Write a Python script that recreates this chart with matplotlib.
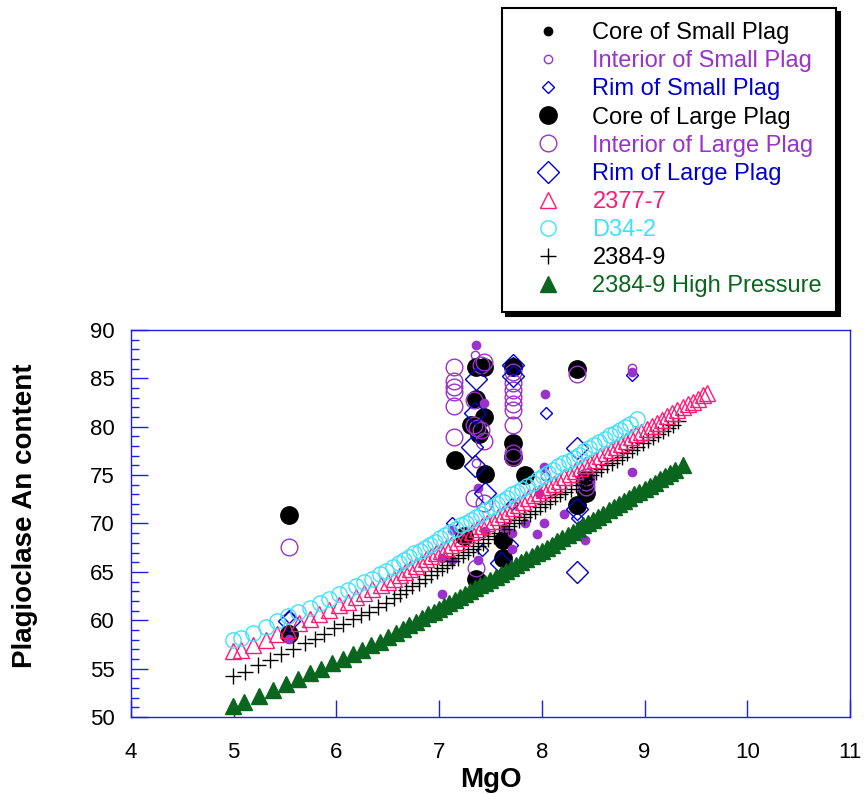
import matplotlib
matplotlib.use("Agg")
import matplotlib.pyplot as plt
from matplotlib.ticker import MultipleLocator

plt.rcParams['font.family'] = ['Liberation Sans', 'DejaVu Sans']

PURPLE = '#9933CC'
BLUE = '#0000CC'
PINK = '#FF1A75'
CYAN = '#40E0FF'
GREEN = '#0A661E'
AXIS_BLUE = '#2020E0'

# --- analysed plagioclase (MgO of host glass vs An) ---
core_small_x = [7.72, 8.34]
core_small_y = [86.2, 86.0]

interior_small_x = [7.35, 8.88, 8.03, 7.36]
interior_small_y = [87.4, 86.1, 74.9, 76.3]

# filled small interior analyses
interior_small_fill_x = [7.36, 7.44, 8.03, 8.88, 8.88, 7.38, 8.02, 7.97, 8.22, 8.02, 7.84, 7.95,
                         7.71, 7.71, 8.42, 8.36, 7.03, 7.03, 7.13, 7.13, 7.38, 7.45, 5.54, 7.63]
interior_small_fill_y = [88.4, 82.5, 83.4, 85.7, 75.3, 73.7, 75.8, 73.1, 71.0, 70.1, 70.0, 68.9,
                         69.0, 67.4, 68.3, 69.3, 66.4, 62.7, 66.2, 69.3, 66.2, 69.2, 58.1, 69.5]

rim_small_x = [5.54, 8.04, 8.88, 7.13, 7.71, 7.71, 8.34, 7.42, 7.72]
rim_small_y = [60.3, 81.4, 85.3, 70.1, 72.0, 67.8, 70.6, 67.3, 86.6]

core_large_x = [5.54, 5.54, 7.15, 7.36, 7.44, 7.36, 7.44, 7.31, 7.39, 7.45, 7.36, 7.24,
                7.72, 7.72, 7.72, 7.84, 7.62, 7.62, 8.34, 8.42, 8.43, 8.34]
core_large_y = [70.9, 58.6, 76.6, 86.2, 86.2, 82.9, 81.0, 80.2, 79.3, 75.1, 64.3, 68.7,
                86.2, 78.3, 76.9, 75.0, 68.3, 66.4, 86.0, 74.5, 73.1, 71.9]

interior_large_x = [5.54, 7.14, 7.14, 7.14, 7.14, 7.14, 7.14, 7.44, 7.41, 7.34, 7.34, 7.41,
                    7.44, 7.37, 7.34, 7.44, 7.36, 7.72, 7.72, 7.72, 7.72, 7.72, 7.72, 7.72,
                    7.72, 7.72, 8.34, 8.43, 8.43, 8.43]
interior_large_y = [67.6, 86.2, 84.7, 84.1, 83.6, 82.1, 78.9, 86.7, 86.4, 82.8, 80.2, 79.7,
                    78.5, 79.9, 72.6, 72.1, 65.4, 85.7, 84.5, 83.8, 83.1, 82.4, 81.7, 80.2,
                    77.3, 76.9, 85.4, 74.8, 74.3, 73.8]

rim_large_x = [5.54, 7.36, 7.35, 7.32, 7.35, 7.45, 7.72, 7.72, 8.34, 8.34, 8.34, 7.60]
rim_large_y = [59.9, 84.9, 81.4, 77.9, 75.9, 73.2, 86.4, 85.2, 77.8, 71.5, 65.0, 65.9]

# --- model liquid lines of descent ---
m2377_x = [4.99, 5.07, 5.19, 5.31, 5.42, 5.53, 5.64, 5.74, 5.83, 5.93, 6.03, 6.11, 6.19, 6.27,
           6.35, 6.43, 6.50, 6.56, 6.62, 6.67, 6.72, 6.77, 6.82, 6.87, 6.92, 6.97, 7.02, 7.07,
           7.12, 7.17, 7.22, 7.27, 7.32, 7.37, 7.42, 7.47, 7.52, 7.57, 7.62, 7.67, 7.72, 7.77,
           7.82, 7.87, 7.92, 7.97, 8.02, 8.07, 8.12, 8.17, 8.22, 8.27, 8.32, 8.37, 8.42, 8.47,
           8.52, 8.57, 8.62, 8.67, 8.72, 8.77, 8.82, 8.87, 8.92, 8.97, 9.02, 9.07, 9.12, 9.17,
           9.22, 9.27, 9.32, 9.37, 9.42, 9.47, 9.52, 9.57, 9.61]
m2377_y = [56.8, 56.9, 57.4, 58.0, 58.6, 59.0, 59.7, 60.1, 60.6, 61.1, 61.6, 61.9, 62.4, 62.8,
           63.2, 63.6, 64.0, 64.3, 64.7, 65.0, 65.3, 65.6, 65.9, 66.3, 66.6, 66.9, 67.2, 67.5,
           67.8, 68.1, 68.5, 68.8, 69.1, 69.4, 69.7, 70.0, 70.3, 70.7, 71.0, 71.3, 71.6, 71.9,
           72.2, 72.6, 72.9, 73.2, 73.5, 73.8, 74.1, 74.4, 74.8, 75.1, 75.4, 75.7, 76.0, 76.3,
           76.6, 77.0, 77.3, 77.6, 77.9, 78.2, 78.5, 78.9, 79.2, 79.5, 79.8, 80.1, 80.4, 80.7,
           81.1, 81.4, 81.7, 82.0, 82.3, 82.6, 82.9, 83.3, 83.5]

d342_x = [4.99, 5.07, 5.19, 5.31, 5.42, 5.53, 5.63, 5.74, 5.84, 5.93, 6.03, 6.11, 6.19, 6.27,
          6.35, 6.42, 6.48, 6.55, 6.61, 6.66, 6.71, 6.76, 6.81, 6.86, 6.91, 6.96, 7.01, 7.06,
          7.11, 7.16, 7.21, 7.26, 7.31, 7.36, 7.41, 7.46, 7.51, 7.56, 7.61, 7.66, 7.71, 7.76,
          7.81, 7.86, 7.91, 7.96, 8.01, 8.06, 8.11, 8.16, 8.21, 8.26, 8.31, 8.36, 8.41, 8.46,
          8.51, 8.56, 8.61, 8.66, 8.71, 8.76, 8.81, 8.86, 8.93]
d342_y = [58.0, 58.2, 58.7, 59.3, 59.9, 60.4, 60.8, 61.3, 61.8, 62.2, 62.7, 63.1, 63.5, 64.0,
          64.3, 64.8, 65.1, 65.5, 65.9, 66.2, 66.5, 66.9, 67.2, 67.5, 67.8, 68.1, 68.5, 68.8,
          69.1, 69.4, 69.8, 70.1, 70.4, 70.7, 71.0, 71.4, 71.7, 72.0, 72.3, 72.6, 73.0, 73.3,
          73.6, 73.9, 74.2, 74.6, 74.9, 75.2, 75.5, 75.9, 76.2, 76.5, 76.8, 77.1, 77.5, 77.8,
          78.1, 78.4, 78.7, 79.1, 79.4, 79.7, 80.0, 80.3, 80.8]

m2384_x = [4.99, 5.11, 5.24, 5.35, 5.46, 5.58, 5.69, 5.79, 5.88, 5.98, 6.06, 6.16, 6.24, 6.32,
           6.40, 6.48, 6.56, 6.62, 6.68, 6.74, 6.80, 6.86, 6.92, 6.98, 7.03, 7.08, 7.13, 7.18,
           7.23, 7.28, 7.33, 7.38, 7.43, 7.48, 7.53, 7.58, 7.63, 7.68, 7.73, 7.78, 7.83, 7.88,
           7.93, 7.98, 8.03, 8.08, 8.13, 8.18, 8.23, 8.28, 8.33, 8.38, 8.43, 8.48, 8.53, 8.58,
           8.63, 8.68, 8.73, 8.78, 8.83, 8.88, 8.93, 8.98, 9.03, 9.08, 9.13, 9.18, 9.23, 9.28, 9.33]
m2384_y = [54.2, 54.7, 55.4, 55.9, 56.5, 57.0, 57.6, 58.1, 58.6, 59.2, 59.6, 60.1, 60.5, 60.9,
           61.4, 61.8, 62.3, 62.7, 63.1, 63.5, 63.9, 64.3, 64.7, 65.1, 65.4, 65.7, 66.1, 66.4,
           66.7, 67.1, 67.4, 67.7, 68.0, 68.4, 68.7, 69.0, 69.4, 69.7, 70.0, 70.4, 70.7, 71.0,
           71.3, 71.7, 72.0, 72.3, 72.7, 73.0, 73.3, 73.6, 74.0, 74.3, 74.6, 75.0, 75.3, 75.6,
           76.0, 76.3, 76.6, 76.9, 77.3, 77.6, 77.9, 78.3, 78.6, 78.9, 79.3, 79.6, 79.9, 80.2, 80.6]

m2384hp_x = [4.99, 5.10, 5.25, 5.38, 5.51, 5.63, 5.74, 5.85, 5.96, 6.06, 6.16, 6.25, 6.34, 6.42,
             6.50, 6.58, 6.65, 6.71, 6.77, 6.83, 6.89, 6.95, 7.00, 7.05, 7.10, 7.15, 7.20, 7.25,
             7.30, 7.35, 7.40, 7.45, 7.50, 7.55, 7.60, 7.65, 7.70, 7.75, 7.80, 7.85, 7.90, 7.95,
             8.00, 8.05, 8.10, 8.15, 8.20, 8.25, 8.30, 8.35, 8.40, 8.45, 8.50, 8.55, 8.60, 8.65,
             8.70, 8.75, 8.80, 8.85, 8.90, 8.95, 9.00, 9.05, 9.10, 9.15, 9.20, 9.25, 9.30, 9.37]
m2384hp_y = [51.1, 51.6, 52.2, 52.8, 53.4, 53.9, 54.5, 55.0, 55.6, 56.0, 56.5, 56.9, 57.4, 57.8,
             58.3, 58.7, 59.1, 59.5, 59.8, 60.2, 60.6, 60.9, 61.2, 61.5, 61.8, 62.1, 62.4, 62.7,
             63.0, 63.3, 63.6, 63.9, 64.2, 64.5, 64.8, 65.1, 65.4, 65.7, 66.0, 66.3, 66.6, 66.9,
             67.2, 67.5, 67.8, 68.2, 68.5, 68.8, 69.1, 69.4, 69.8, 70.1, 70.4, 70.7, 71.0, 71.4,
             71.7, 72.0, 72.3, 72.6, 73.0, 73.3, 73.6, 73.9, 74.2, 74.6, 74.9, 75.2, 75.5, 76.0]

fig = plt.figure(figsize=(8.64, 7.94), dpi=100)
ax = fig.add_axes([0.1516, 0.097, 0.8322, 0.4874])

# measured data
h_core_s, = ax.plot(core_small_x, core_small_y, 'o', ms=6, color='black', ls='none',
                    label='Core of Small Plag')
h_int_s, = ax.plot(interior_small_x, interior_small_y, 'o', ms=6, mfc='none', mec=PURPLE, mew=1.0,
                   ls='none', label='Interior of Small Plag')
h_rim_s, = ax.plot(rim_small_x, rim_small_y, 'D', ms=6, mfc='none', mec=BLUE, mew=1.0,
                   ls='none', label='Rim of Small Plag')
h_core_l, = ax.plot(core_large_x, core_large_y, 'o', ms=12.5, color='black', ls='none',
                    label='Core of Large Plag')
h_int_l, = ax.plot(interior_large_x, interior_large_y, 'o', ms=12, mfc='none', mec=PURPLE,
                   mew=1.0, ls='none', label='Interior of Large Plag')
ax.plot(interior_small_fill_x, interior_small_fill_y, 'o', ms=6, color=PURPLE, ls='none')
h_rim_l, = ax.plot(rim_large_x, rim_large_y, 'D', ms=11, mfc='none', mec=BLUE, mew=1.0,
                   ls='none', label='Rim of Large Plag')

# models
h_hp, = ax.plot(m2384hp_x, m2384hp_y, '^', ms=11, color=GREEN, ls='none',
                label='2384-9 High Pressure')
h_2384, = ax.plot(m2384_x, m2384_y, '+', ms=11, mew=1.0, color='black', ls='none', label='2384-9')
h_2377, = ax.plot(m2377_x, m2377_y, '^', ms=11, mfc='none', mec=PINK, mew=1.0, ls='none',
                  label='2377-7')
h_d34, = ax.plot(d342_x, d342_y, 'o', ms=11, mfc='none', mec=CYAN, mew=1.0, ls='none',
                 label='D34-2')

ax.set_xlim(4, 11)
ax.set_ylim(50, 90)
ax.xaxis.set_major_locator(MultipleLocator(1))
ax.yaxis.set_major_locator(MultipleLocator(5))
ax.yaxis.set_minor_locator(MultipleLocator(1))
ax.tick_params(axis='both', which='both', direction='in', top=False, right=False,
               color=AXIS_BLUE, labelsize=16, labelcolor='black')
ax.tick_params(axis='y', which='major', length=12, width=1, pad=12)
ax.tick_params(axis='y', which='minor', length=6, width=1)
ax.tick_params(axis='x', which='major', length=12, width=1, pad=18)
for sp in ax.spines.values():
    sp.set_color(AXIS_BLUE)
    sp.set_linewidth(1.0)

ax.set_xlabel('MgO', fontsize=20, fontweight='bold', labelpad=3)
ax.set_ylabel('Plagioclase An content', fontsize=20, fontweight='bold')
ax.yaxis.set_label_coords(-0.129, 0.52)

handles = [h_core_s, h_int_s, h_rim_s, h_core_l, h_int_l, h_rim_l, h_2377, h_d34, h_2384, h_hp]
label_colors = ['black', PURPLE, BLUE, 'black', PURPLE, BLUE, PINK, CYAN, 'black', GREEN]
leg = ax.legend(handles=handles, loc='upper left', bbox_to_anchor=(502 / 864, 1 - 8 / 794),
                bbox_transform=fig.transFigure, numpoints=1, fontsize=17, frameon=True,
                fancybox=False, shadow={'color': 'black', 'alpha': 1.0, 'ox': 3, 'oy': -3},
                labelcolor=label_colors, borderpad=0.6, handlelength=2.7, handletextpad=0.53,
                labelspacing=0.26, borderaxespad=0)
leg.get_frame().set_edgecolor('black')
leg.get_frame().set_linewidth(1.5)

fig.savefig('out.png', dpi=100)
